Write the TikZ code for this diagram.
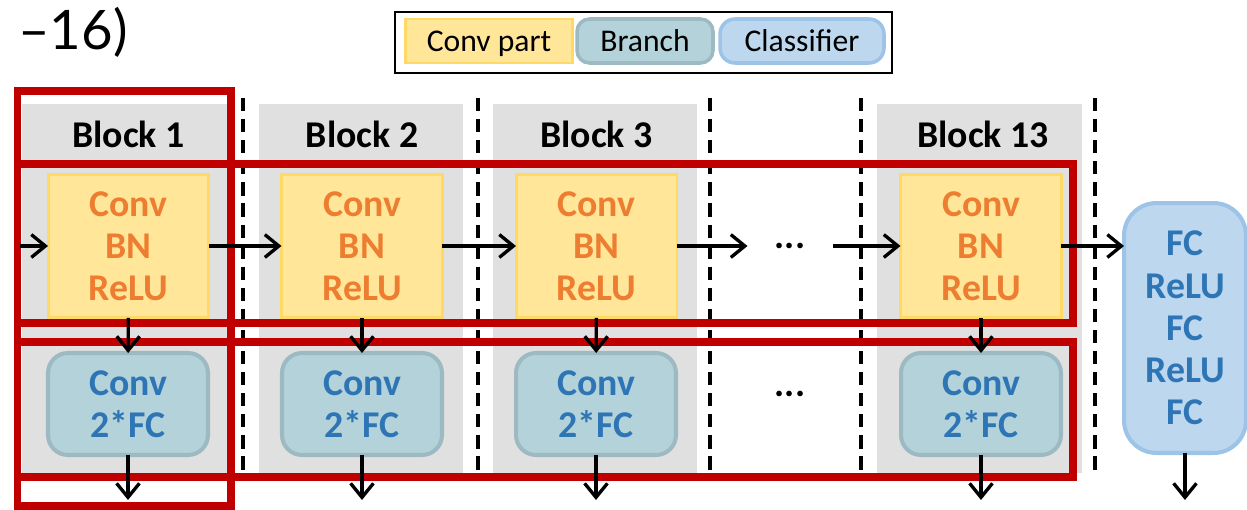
\documentclass[tikz,border=0pt]{standalone}
\usepackage{fontspec}
\setmainfont{Carlito}
\newfontfamily\captionfont{Lato}
\usetikzlibrary{arrows.meta}

\definecolor{blockgray}{HTML}{E0E0E0}
\definecolor{convfill}{HTML}{FFE699}
\definecolor{convedge}{HTML}{FFD966}
\definecolor{convtext}{HTML}{ED7D31}
\definecolor{branchfill}{HTML}{B4D2D9}
\definecolor{branchedge}{HTML}{9DBAC3}
\definecolor{clsfill}{HTML}{BDD7EE}
\definecolor{clsedge}{HTML}{9DC3E6}
\definecolor{netblue}{HTML}{2E75B6}
\definecolor{groupred}{HTML}{C00000}

\tikzset{
  boldtext/.style={font=\fontsize{21.5}{24}\selectfont\bfseries},
  convbox/.style={boldtext, draw=convedge, line width=1.7pt, fill=convfill,
    minimum width=3.22cm, minimum height=2.88cm, inner sep=0pt, outer sep=0pt,
    text=convtext, align=center},
  branchbox/.style={boldtext, draw=branchedge, line width=2.3pt, fill=branchfill,
    rounded corners=0.4cm, minimum width=3.2cm, minimum height=2.04cm,
    inner sep=0pt, outer sep=0pt, text=netblue, align=center},
  clsbox/.style={boldtext, draw=clsedge, line width=2.3pt, fill=clsfill,
    rounded corners=0.65cm, minimum width=2.44cm, minimum height=5cm,
    inner sep=0pt, outer sep=0pt, text=netblue, align=center},
  blocktitle/.style={boldtext, anchor=base, inner sep=0pt},
  dotsnode/.style={boldtext, minimum width=1.7cm, inner sep=0pt, outer sep=0pt},
  arr/.style={-{Straight Barb[length=8pt,width=13pt]}, line width=1.9pt},
  sep/.style={dash pattern=on 7.5pt off 4.5pt, line width=1.8pt},
  group/.style={draw=groupred, line width=4.5pt},
  legendtext/.style={font=\fontsize{18}{20}\selectfont, text height=11.6pt,
    text depth=0pt, inner sep=0pt, outer sep=0pt},
}

\begin{document}
\begin{tikzpicture}[x=0.02cm, y=-0.02cm]
\useasboundingbox (0,0) rectangle (1247,510);
\begin{scope}
\clip (0,0) rectangle (1247,510);

% panel caption, partly running off the left edge
\node[font=\captionfont\fontsize{31}{34}\selectfont, anchor=base east, inner sep=0pt]
  (caption) at (128,50) {–16)};

% legend
\draw[line width=1.1pt] (395,12) rectangle (892,73);
\node[legendtext, draw=convedge, line width=1.7pt, fill=convfill,
  minimum width=3.36cm, minimum height=0.88cm] (lconv) at (489,41) {Conv part};
\node[legendtext, draw=branchedge, line width=2pt, fill=branchfill,
  rounded corners=0.25cm, minimum width=2.72cm, minimum height=0.88cm]
  (lbranch) at (645,41) {Branch};
\node[legendtext, draw=clsedge, line width=2pt, fill=clsfill,
  rounded corners=0.3cm, minimum width=3.28cm, minimum height=0.88cm]
  (lcls) at (802,41) {Classifier};

% block backgrounds
\fill[blockgray] (22,104) rectangle (228,473);
\fill[blockgray] (259,104) rectangle (463,473);
\fill[blockgray] (493,104) rectangle (697,473);
\fill[blockgray] (877,104) rectangle (1082,473);

% block separators
\foreach \x in {243,478,710,861,1095}
  \draw[sep] (\x,98) -- (\x,473);

% block titles
\node[blocktitle] (t1) at (128.5,148) {Block 1};
\node[blocktitle] (t2) at (362,148) {Block 2};
\node[blocktitle] (t3) at (596.5,148) {Block 3};
\node[blocktitle] (t13) at (983,148) {Block 13};

% conv parts
\node[convbox] (c1) at (128.5,246) {Conv\\BN\\ReLU};
\node[convbox] (c2) at (362,246) {Conv\\BN\\ReLU};
\node[convbox] (c3) at (596.5,246) {Conv\\BN\\ReLU};
\node[convbox] (c13) at (981,246) {Conv\\BN\\ReLU};
\node[dotsnode] (cd) at (790,246) {...};

% branches
\node[branchbox] (b1) at (128,404) {Conv\\2*FC};
\node[branchbox] (b2) at (362,404) {Conv\\2*FC};
\node[branchbox] (b3) at (596,404) {Conv\\2*FC};
\node[branchbox] (b13) at (981,404) {Conv\\2*FC};
\node[dotsnode] (bd) at (790,394) {...};

% classifier
\node[clsbox] (cls) at (1185,328) {FC\\ReLU\\FC\\ReLU\\FC};

% groupings
\draw[group] (17.5,91) rectangle (231,506);
\draw[group] (17.5,164) rectangle (1073,323);
\draw[group] (17.5,342) rectangle (1073,477);

% data flow
\coordinate (in) at (20,246);
\draw[arr] (in) -- (c1);
\draw[arr] (c1) -- (c2);
\draw[arr] (c2) -- (c3);
\draw[arr] (c3) -- (cd);
\draw[arr] (cd) -- (c13);
\draw[arr] (c13.east) -- (c13.east -| cls.west);

\foreach \i in {1,2,3,13} {
  \draw[arr] (c\i) -- (b\i);
  \coordinate (o\i) at (b\i.south |- 0,500);
  \draw[arr] (b\i) -- (o\i);
}
\coordinate (ocls) at (cls.south |- 0,500);
\draw[arr] (cls) -- (ocls);
\end{scope}
\end{tikzpicture}
\end{document}
